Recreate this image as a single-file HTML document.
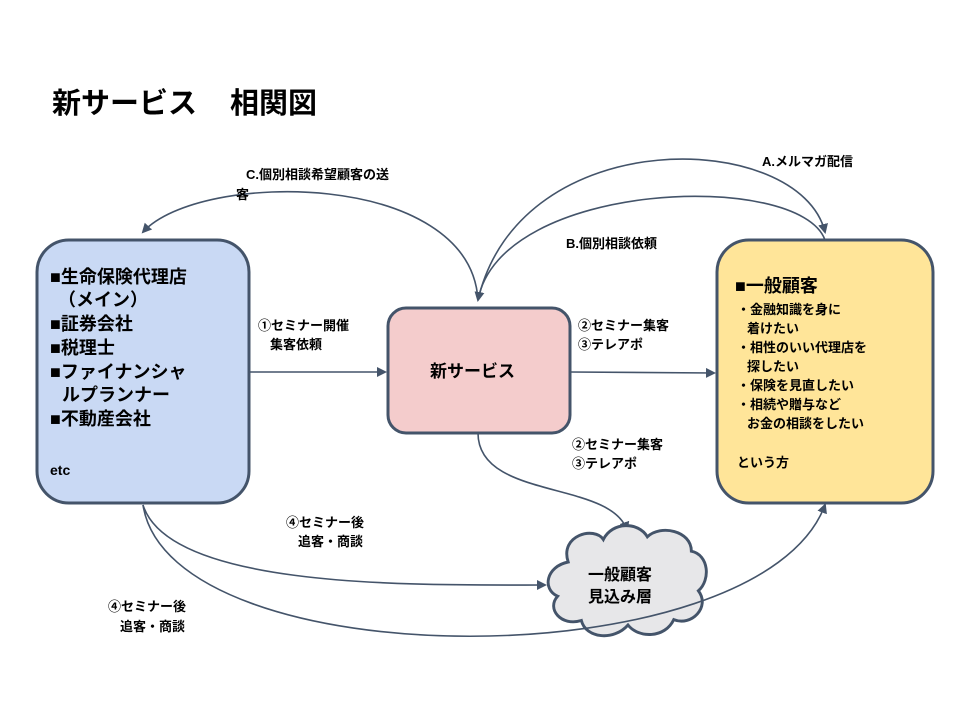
<!DOCTYPE html>
<html><head><meta charset="utf-8"><style>
body{margin:0;background:#fff;}
svg text{font-family:"Liberation Sans","Noto Sans CJK JP",sans-serif;font-weight:bold;fill:#000;}
</style></head><body>
<svg width="960" height="720" viewBox="0 0 960 720" xmlns="http://www.w3.org/2000/svg">
<defs><marker id="a" markerWidth="10" markerHeight="10" refX="8" refY="5" orient="auto" markerUnits="userSpaceOnUse"><path d="M0,0 L10,5 L0,10 Z" fill="#44546a"/></marker></defs>
<rect width="960" height="720" fill="#fff"/>
<text x="52" y="113" font-size="29">新サービス</text>
<text x="230" y="113" font-size="29">相関図</text>
<g fill="none" stroke="#44546a" stroke-width="1.6" marker-end="url(#a)">
<path d="M478,300 C470,170 200,170 143,232"/>
<path d="M478,300 C520,120 800,130 825,232"/>
<path d="M825,240 C800,170 500,180 478,300"/>
<path d="M250,372 L385,372"/>
<path d="M570,372 L714,373"/>
<path d="M478,433 C478,500 610,480 627,530"/>
<path d="M143,505 C170,590 420,585 545,585"/>
</g>
<rect x="37" y="240" width="212" height="263" rx="32" fill="#c9d9f4" stroke="#44546a" stroke-width="3"/>
<rect x="388" y="308" width="182" height="125" rx="18" fill="#f4cccc" stroke="#44546a" stroke-width="3"/>
<rect x="717" y="240" width="216" height="263" rx="32" fill="#ffe599" stroke="#44546a" stroke-width="3"/>
<g transform="translate(628,580) scale(0.88,0.9) translate(-628,-580)">
<path d="M560,560 C550,530 590,520 600,535 C610,515 640,515 650,532 C665,518 700,525 700,548 C720,552 722,580 708,592 C722,610 700,632 680,624 C670,645 640,645 628,630 C612,648 580,645 575,625 C552,632 535,612 548,598 C530,590 535,565 560,560 Z" fill="#e7e7e9" stroke="#44546a" stroke-width="3.3"/>
</g>
<path d="M143,505 C170,680 760,680 825,505" fill="none" stroke="#44546a" stroke-width="1.6" marker-end="url(#a)"/>
<g font-size="18">
<text x="50" y="283">■生命保険代理店</text>
<text x="58" y="306">（メイン）</text>
<text x="50" y="330">■証券会社</text>
<text x="50" y="354">■税理士</text>
<text x="50" y="378">■ファイナンシャ</text>
<text x="62" y="401">ルプランナー</text>
<text x="50" y="425">■不動産会社</text>
</g>
<text x="50" y="475" font-size="14">etc</text>
<text x="430" y="377" font-size="17">新サービス</text>
<text x="735" y="292" font-size="18">■一般顧客</text>
<g font-size="13">
<text x="737" y="314">・金融知識を身に</text>
<text x="747" y="333">着けたい</text>
<text x="737" y="352">・相性のいい代理店を</text>
<text x="747" y="371">探したい</text>
<text x="737" y="390">・保険を見直したい</text>
<text x="737" y="409">・相続や贈与など</text>
<text x="747" y="428">お金の相談をしたい</text>
<text x="737" y="467">という方</text>
</g>
<g font-size="16"><text x="588" y="580">一般顧客</text><text x="588" y="602">見込み層</text></g>
<g font-size="13">
<text x="246" y="179">C.個別相談希望顧客の送</text>
<text x="236" y="199">客</text>
<text x="762" y="166">A.メルマガ配信</text>
<text x="566" y="248">B.個別相談依頼</text>
<text x="258" y="330">①セミナー開催</text>
<text x="270" y="349">集客依頼</text>
<text x="578" y="330">②セミナー集客</text>
<text x="578" y="349">③テレアポ</text>
<text x="572" y="449">②セミナー集客</text>
<text x="572" y="468">③テレアポ</text>
<text x="286" y="527">④セミナー後</text>
<text x="298" y="546">追客・商談</text>
<text x="108" y="611">④セミナー後</text>
<text x="120" y="631">追客・商談</text>
</g>
</svg>
</body></html>
